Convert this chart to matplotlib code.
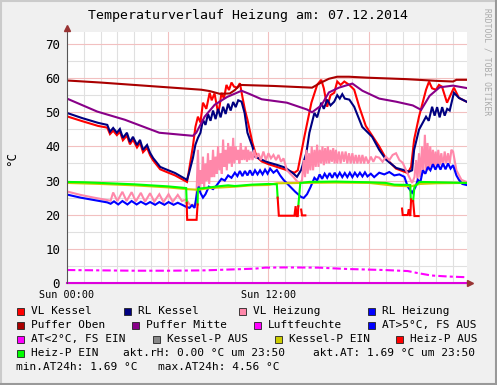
import numpy as np
import matplotlib.pyplot as plt
from matplotlib.patches import Rectangle
from matplotlib.lines import Line2D

W, H = 497, 385
nan = np.nan

# Time in hours since Sun 00:00, values in degC
vl_kessel = [(0, 48.8), (0.9, 47.4), (1.85, 46.0), (2.4, 45.5), (2.56, 43.6), (2.75, 44.6), (2.97, 43.3),
             (3.15, 44.3), (3.33, 41.8), (3.57, 43.2), (3.75, 40.6), (3.93, 42.0), (4.17, 39.7), (4.35, 41.1),
             (4.53, 38.3), (4.77, 39.6), (4.95, 37.4), (5.13, 35.9), (5.55, 33.3), (5.84, 32.7), (6.44, 31.5),
             (7.15, 29.6), (7.27, 33.0), (7.5, 40.0), (7.65, 45.7), (7.8, 48.7), (7.95, 47.0), (8.1, 52.8),
             (8.3, 51.0), (8.5, 55.7), (8.62, 53.5), (8.79, 55.5), (9.0, 49.8), (9.1, 52.0), (9.2, 55.7),
             (9.35, 54.0), (9.5, 58.0), (9.65, 56.5), (9.8, 58.7), (9.95, 57.5), (10.15, 57.2), (10.3, 58.5),
             (10.45, 54.5), (10.6, 50.7), (10.75, 47.8), (11.05, 41.0), (11.29, 37.0), (11.6, 35.6), (12.0, 34.8),
             (12.5, 34.0), (13.0, 33.2), (13.55, 32.3), (13.75, 33.0), (14.14, 42.8), (14.56, 52.8), (14.91, 58.1),
             (15.15, 59.5), (15.3, 57.0), (15.5, 51.6), (15.7, 55.0), (15.92, 55.7), (16.1, 59.0), (16.3, 58.0),
             (16.52, 59.0), (16.82, 58.0), (17.11, 56.6), (17.41, 51.6), (17.8, 46.0), (18.6, 40.0), (19.0, 36.5),
             (19.6, 33.5), (20.3, 32.2), (20.5, 34.0), (20.68, 42.0), (20.97, 48.7), (21.39, 56.6), (21.57, 59.0),
             (21.75, 57.0), (21.98, 56.6), (22.16, 58.0), (22.34, 57.5), (22.64, 52.8), (23.05, 57.2), (23.35, 54.2),
             (23.8, 53.1)]

rl_kessel = [(0, 49.8), (0.9, 48.3), (1.85, 46.9), (2.4, 46.3), (2.56, 44.3), (2.75, 45.4), (2.97, 44.0),
             (3.15, 45.1), (3.33, 42.5), (3.57, 44.0), (3.75, 41.3), (3.93, 42.8), (4.17, 40.4), (4.35, 41.9),
             (4.53, 39.0), (4.77, 40.4), (4.95, 38.1), (5.13, 36.6), (5.55, 34.0), (5.84, 33.4), (6.44, 32.2),
             (7.15, 30.2), (7.27, 32.2), (7.5, 36.6), (7.65, 40.5), (7.8, 42.5), (7.95, 44.0), (8.1, 47.8),
             (8.25, 46.3), (8.4, 49.5), (8.55, 47.5), (8.7, 50.5), (8.85, 48.0), (9.0, 51.0), (9.15, 48.5),
             (9.3, 51.6), (9.45, 49.5), (9.6, 52.5), (9.75, 50.5), (9.9, 53.0), (10.05, 51.5), (10.2, 53.5),
             (10.4, 53.1), (10.58, 49.8), (10.75, 44.0), (11.05, 39.9), (11.2, 37.0), (11.6, 36.1), (12.0, 35.3),
             (12.5, 34.6), (13.0, 33.8), (13.5, 32.0), (13.7, 31.1), (13.95, 33.1), (14.26, 38.1), (14.44, 44.0),
             (14.74, 49.8), (14.9, 48.5), (15.15, 52.8), (15.3, 51.0), (15.5, 53.7), (15.7, 52.0), (15.92, 53.1),
             (16.1, 55.0), (16.25, 54.0), (16.4, 55.3), (16.55, 54.0), (16.82, 53.7), (17.11, 51.6), (17.59, 45.7),
             (18.18, 42.8), (18.6, 39.0), (19.01, 36.1), (19.61, 33.7), (20.38, 32.6), (20.56, 33.0), (20.68, 39.0),
             (20.97, 44.9), (21.39, 48.7), (21.55, 47.5), (21.75, 51.6), (21.9, 49.0), (22.05, 51.5), (22.2, 48.5),
             (22.35, 51.5), (22.5, 49.0), (22.65, 51.0), (22.8, 50.5), (23.05, 55.7), (23.35, 54.2), (23.8, 53.1)]

vl_heizung = [(0, 26.8), (0.8, 25.8), (1.6, 25.0), (2.4, 24.3), (2.6, 24.1), (2.75, 26.5), (3.0, 24.0),
              (3.3, 26.7), (3.55, 24.0), (3.85, 26.6), (4.1, 23.9), (4.4, 26.4), (4.65, 23.8), (4.95, 26.3),
              (5.2, 23.8), (5.5, 26.0), (5.75, 23.7), (6.05, 26.0), (6.3, 23.8), (6.6, 25.8), (6.85, 24.0),
              (7.1, 24.5), (7.3, 23.0), (7.5, 22.5), (7.7, 23.5), (7.8, 39.0), (7.88, 27.0), (7.95, 33.0),
              (8.02, 29.0), (8.1, 37.0), (8.17, 28.0), (8.25, 35.0), (8.32, 30.0), (8.4, 38.0), (8.47, 29.0),
              (8.55, 36.0), (8.62, 31.0), (8.7, 39.0), (8.77, 31.0), (8.85, 37.0), (8.92, 32.0), (9.0, 40.0),
              (9.07, 33.0), (9.15, 38.0), (9.22, 32.0), (9.3, 42.0), (9.37, 34.0), (9.45, 39.0), (9.52, 33.0),
              (9.6, 41.0), (9.67, 35.0), (9.75, 40.0), (9.82, 34.0), (9.9, 42.5), (9.97, 35.0), (10.05, 40.0),
              (10.12, 36.0), (10.2, 39.0), (10.27, 35.0), (10.35, 41.0), (10.42, 36.0), (10.5, 39.0), (10.57, 36.0),
              (10.65, 40.0), (10.72, 35.5), (10.8, 39.0), (10.87, 36.0), (10.95, 38.5), (11.05, 36.0), (11.15, 39.0),
              (11.25, 36.5), (11.4, 38.0), (11.55, 36.0), (11.7, 38.5), (11.85, 36.0), (12.0, 38.0), (12.15, 36.5),
              (12.3, 37.5), (12.45, 36.0), (12.6, 37.5), (12.75, 35.5), (12.9, 36.5), (13.1, 33.0), (13.3, 32.0),
              (13.5, 31.0), (13.7, 29.8), (13.85, 29.3), (14.0, 30.0), (14.1, 36.0), (14.18, 31.0), (14.26, 39.0),
              (14.34, 32.0), (14.42, 38.0), (14.5, 33.0), (14.58, 40.0), (14.66, 33.0), (14.74, 39.0), (14.82, 34.0),
              (14.9, 40.5), (14.98, 34.0), (15.06, 39.0), (15.14, 35.0), (15.22, 40.0), (15.3, 34.5), (15.38, 39.5),
              (15.46, 35.0), (15.54, 40.0), (15.62, 35.0), (15.7, 39.0), (15.78, 35.5), (15.86, 39.5), (15.94, 35.0),
              (16.02, 39.0), (16.1, 35.0), (16.2, 38.5), (16.3, 35.0), (16.4, 38.5), (16.5, 35.5), (16.6, 38.5),
              (16.7, 35.0), (16.8, 38.0), (16.9, 35.0), (17.0, 38.0), (17.1, 35.0), (17.2, 37.5), (17.3, 35.0),
              (17.4, 37.5), (17.5, 35.0), (17.6, 37.5), (17.7, 35.0), (17.8, 37.0), (17.95, 35.0), (18.1, 37.0),
              (18.25, 35.5), (18.4, 37.0), (18.6, 36.7), (18.8, 35.5), (19.0, 37.0), (19.2, 36.0), (19.4, 37.5),
              (19.6, 38.0), (19.8, 36.0), (20.0, 35.2), (20.2, 33.0), (20.38, 31.1), (20.56, 29.3), (20.7, 31.0),
              (20.8, 36.0), (20.88, 30.0), (20.97, 38.0), (21.05, 31.0), (21.15, 40.0), (21.23, 32.0), (21.32, 43.4),
              (21.4, 33.0), (21.48, 41.0), (21.56, 33.0), (21.64, 40.0), (21.72, 34.0), (21.8, 39.0), (21.88, 34.0),
              (21.96, 38.5), (22.04, 34.0), (22.12, 39.0), (22.2, 34.5), (22.3, 38.0), (22.4, 34.0), (22.5, 38.5),
              (22.6, 35.0), (22.7, 38.0), (22.8, 35.0), (22.9, 39.0), (23.0, 38.5), (23.2, 33.0), (23.5, 30.2),
              (23.8, 29.6)]

rl_heizung = [(0, 25.9), (0.8, 25.0), (1.6, 24.3), (2.4, 23.6), (2.6, 23.2), (2.8, 23.9), (3.05, 23.0),
              (3.3, 24.0), (3.6, 23.0), (3.85, 24.0), (4.15, 23.0), (4.4, 23.8), (4.7, 23.0), (4.95, 23.7),
              (5.25, 22.9), (5.5, 23.7), (5.8, 22.9), (6.05, 23.7), (6.35, 22.9), (6.6, 23.5), (6.9, 22.8),
              (7.1, 22.3), (7.3, 22.0), (7.45, 22.8), (7.6, 22.0), (7.75, 26.5), (7.85, 28.2), (7.95, 26.4),
              (8.1, 25.0), (8.25, 26.0), (8.45, 28.2), (8.7, 27.5), (8.9, 28.5), (9.2, 30.5), (9.4, 30.0),
              (9.6, 31.5), (9.8, 30.8), (10.0, 32.3), (10.15, 31.3), (10.3, 32.8), (10.45, 31.3), (10.6, 32.8),
              (10.75, 31.5), (10.9, 33.0), (11.05, 31.5), (11.2, 33.0), (11.35, 31.8), (11.5, 33.0), (11.65, 31.8),
              (11.8, 33.2), (11.95, 32.0), (12.1, 33.5), (12.3, 32.3), (12.5, 33.1), (12.7, 31.5), (12.9, 30.2),
              (13.2, 28.7), (13.6, 26.7), (13.95, 25.2), (14.1, 24.9), (14.3, 26.0), (14.5, 28.0), (14.74, 30.8),
              (14.9, 30.0), (15.05, 31.8), (15.2, 30.5), (15.35, 32.0), (15.5, 30.8), (15.65, 32.2), (15.8, 30.8),
              (15.95, 32.3), (16.1, 31.0), (16.25, 32.3), (16.4, 31.0), (16.55, 32.2), (16.7, 31.0), (16.85, 32.3),
              (17.0, 31.0), (17.15, 32.3), (17.3, 31.2), (17.45, 32.3), (17.6, 31.2), (17.75, 32.4), (17.9, 31.2),
              (18.1, 32.0), (18.3, 31.0), (18.6, 32.3), (18.9, 31.8), (19.2, 32.5), (19.5, 31.5), (19.8, 31.8),
              (20.1, 31.1), (20.3, 28.2), (20.56, 26.4), (20.75, 28.0), (20.9, 30.2), (21.05, 29.5), (21.2, 33.0),
              (21.35, 32.0), (21.5, 34.0), (21.65, 33.0), (21.8, 34.8), (21.95, 33.2), (22.1, 34.8), (22.25, 33.2),
              (22.4, 35.0), (22.55, 33.3), (22.7, 35.0), (22.85, 33.5), (23.0, 34.5), (23.2, 31.5), (23.35, 30.2),
              (23.55, 29.0), (23.8, 28.7)]

puffer_oben = [(0, 59.3), (2, 58.7), (4, 58.0), (6, 57.3), (8, 56.6), (8.5, 56.2), (9.1, 55.4), (9.7, 55.5),
               (10.0, 56.5), (10.3, 58.0), (12.3, 57.7), (14.6, 57.2), (15.1, 58.6), (15.6, 59.8), (16.1, 60.4),
               (16.8, 60.4), (18.0, 60.1), (20.2, 59.7), (22.0, 59.2), (23.0, 59.0), (23.2, 59.5), (23.8, 59.5)]

puffer_mitte = [(0, 54.0), (1.8, 50.2), (3.45, 47.8), (5.5, 44.0), (7.5, 43.1), (7.7, 44.0), (8.2, 48.7),
                (8.8, 52.2), (9.55, 54.5), (10.4, 56.3), (10.9, 55.3), (11.6, 53.8), (13.1, 52.8), (14.3, 50.8),
                (14.6, 50.0), (15.15, 52.0), (15.6, 55.8), (16.2, 57.2), (17.0, 58.4), (17.6, 56.3), (18.6, 54.0),
                (19.6, 53.1), (20.6, 52.0), (21.1, 50.7), (21.6, 54.8), (22.2, 57.3), (23.0, 57.8), (23.8, 57.1)]

luftfeuchte = [(0, 0.0), (23.8, 0.0)]

aussentemp = [(0, 3.8), (2, 3.7), (4, 3.6), (6, 3.6), (8.2, 3.7), (10, 4.0), (11.2, 4.2), (11.8, 4.5),
              (13, 4.56), (15, 4.5), (16.7, 4.1), (18.9, 3.8), (20.3, 3.5), (20.9, 2.9), (21.7, 2.2),
              (22.7, 1.9), (23.8, 1.69)]

kesselp_ein = [(0, 29.3), (2, 29.0), (4, 28.6), (6, 28.0), (7.1, 27.5), (7.8, 27.3), (8.5, 27.8), (10, 28.2),
               (11, 28.6), (12, 28.7), (12.5, 29.2), (14, 29.3), (16, 29.4), (18, 29.3), (19.5, 28.5),
               (20.5, 28.3), (21, 29.0), (22, 29.2), (23.8, 29.3)]

heizp_ein = [(0, 29.6), (1, 29.5), (2, 29.3), (3, 29.1), (4, 28.9), (5, 28.6), (6, 28.3), (7.1, 27.8),
             (7.13, 23.5), (7.14, nan), (7.77, nan), (7.78, 23.0), (7.8, 27.6), (8.5, 28.0), (9.0, 28.3),
             (9.6, 28.6), (10.0, 28.4), (11.0, 28.8), (12.0, 29.0), (12.5, 28.9), (12.55, 25.0), (12.56, nan),
             (13.77, nan), (13.78, 22.5), (13.9, 29.3), (14.44, 29.6), (16.0, 29.7), (18.0, 29.5), (19.0, 29.3),
             (19.5, 28.8), (20.45, 28.7), (20.48, 24.5), (20.49, nan), (20.6, nan), (20.62, 24.0), (20.7, 28.2),
             (21.0, 29.6), (22.0, 29.5), (23.0, 29.4), (23.8, 29.3)]

heizp_aus = [(7.13, 23.5), (7.16, 18.5), (7.72, 18.5), (7.78, 23.0), (7.79, nan), (12.55, 25.0), (12.62, 19.7),
             (13.55, 19.7), (13.62, 22.5), (13.68, 19.6), (13.75, 19.6), (13.78, 22.5), (13.79, nan),
             (13.95, 21.5), (14.0, 19.8), (14.2, 19.8), (14.21, nan), (19.96, 21.8), (20.0, 19.9), (20.3, 19.9),
             (20.36, 21.6), (20.45, 19.6), (20.5, 24.5), (20.51, nan), (20.62, 24.0), (20.7, 19.6), (20.95, 19.6)]

legend_rows = [
    [("VL Kessel", "#ff0000"), ("RL Kessel", "#000080"), ("VL Heizung", "#ff88aa"), ("RL Heizung", "#0000ff")],
    [("Puffer Oben", "#aa0000"), ("Puffer Mitte", "#880088"), ("Luftfeuchte", "#ff00ff"),
     ("AT>5°C, FS AUS", "#0000ff")],
    [("AT<2°C, FS EIN", "#ff00ff"), ("Kessel-P AUS", "#888888"), ("Kessel-P EIN", "#cccc00"),
     ("Heiz-P AUS", "#ff0000")],
    [("Heiz-P EIN", "#00ff00")],
]
legend_text_x = [[31, 138, 253, 382], [31, 146, 268, 382], [31, 167, 289, 410], [31]]

plt.rcParams['font.family'] = 'DejaVu Sans Mono'

fig = plt.figure(figsize=(W / 100, H / 100), dpi=100, facecolor='#f0f0f0')
ax = fig.add_axes([67 / W, 1 - 283 / H, 400 / W, 251 / H])
ax.set_facecolor('white')

# grid
for h in np.arange(1, 24):
    ax.axvline(h, color='#f2c0c0' if h % 6 == 0 else '#e0e0e0', lw=0.8, zorder=0)
for v in np.arange(5, 75, 5):
    ax.axhline(v, color='#f2c0c0' if v % 10 == 0 else '#e0e0e0', lw=0.8, zorder=0)


def draw(data, color, **kw):
    arr = np.array(data, dtype=float)
    ax.plot(arr[:, 0], arr[:, 1], color=color, lw=1.5, solid_joinstyle='miter', **kw)


draw(vl_kessel, '#ff0000')
draw(rl_kessel, '#000080')
draw(vl_heizung, '#ff88aa')
draw(rl_heizung, '#0000ff')
draw(puffer_oben, '#aa0000')
draw(puffer_mitte, '#880088')
draw(kesselp_ein, '#cccc00')
draw(heizp_ein, '#00ff00')
draw(heizp_aus, '#ff0000')
at = np.array(aussentemp)
ax.plot(at[:, 0], at[:, 1], color='#ff00ff', lw=1.5, dashes=(4, 1.5, 1.5, 1.5))
draw(luftfeuchte, '#dd00dd', clip_on=False)

ax.set_xlim(0, 23.83)
ax.set_ylim(0, 73.5)
ax.set_xticks([0, 12])
ax.set_xticklabels(["Sun 00:00", "Sun 12:00"], fontsize=7.3)
ax.set_yticks(np.arange(0, 71, 10))
ax.set_yticklabels([str(v) for v in range(0, 71, 10)], fontsize=9)
ax.tick_params(length=0, pad=5)
for s in ax.spines.values():
    s.set_visible(False)


def fx(x):
    return x / W


def fy(y):
    return 1 - y / H


# axis lines and arrows
fig.add_artist(Line2D([fx(67), fx(67)], [fy(283), fy(29)], color='#555555', lw=0.8))
fig.add_artist(Line2D([fx(67), fx(469)], [fy(283), fy(283)], color='#555555', lw=0.8, zorder=0))
fig.add_artist(Line2D([fx(67)], [fy(28)], marker='^', ms=4, color='#993333', lw=0))
fig.add_artist(Line2D([fx(470)], [fy(283)], marker='>', ms=4, color='#993333', lw=0))

# border
fig.add_artist(Line2D([0, 1], [fy(0.5), fy(0.5)], color='#cbcbcb', lw=1.5))
fig.add_artist(Line2D([fx(0.5), fx(0.5)], [0, 1], color='#cbcbcb', lw=1.5))
fig.add_artist(Line2D([0, 1], [fy(384), fy(384)], color='#999999', lw=1.5))
fig.add_artist(Line2D([fx(496), fx(496)], [0, 1], color='#999999', lw=1.5))

fig.text(fx(248), fy(16), "Temperaturverlauf Heizung am: 07.12.2014", fontsize=9.5, ha='center', va='center')
fig.text(fx(12), fy(158), "°C", fontsize=9, rotation=90, ha='center', va='center')
fig.text(fx(487), fy(8), "RRDTOOL / TOBI OETIKER", fontsize=5.8, rotation=270, ha='center', va='top',
         color='#aaaaaa')

# legend
row_y = [311, 325, 339, 353]
for row, xs, y in zip(legend_rows, legend_text_x, row_y):
    for (label, color), x in zip(row, xs):
        fig.add_artist(Rectangle((fx(x - 14), fy(y + 3.5)), 7 / W, 7 / H, facecolor=color,
                                 edgecolor='#222222', lw=0.6))
        fig.text(fx(x), fy(y), label, fontsize=8, va='center', ha='left')
fig.text(fx(123), fy(353), "akt.rH: 0.00 °C um 23:50", fontsize=8, va='center')
fig.text(fx(313), fy(353), "akt.AT: 1.69 °C um 23:50", fontsize=8, va='center')
fig.text(fx(16), fy(367), "min.AT24h: 1.69 °C", fontsize=8, va='center')
fig.text(fx(158), fy(367), "max.AT24h: 4.56 °C", fontsize=8, va='center')

fig.savefig('out.png', dpi=100, facecolor=fig.get_facecolor())
